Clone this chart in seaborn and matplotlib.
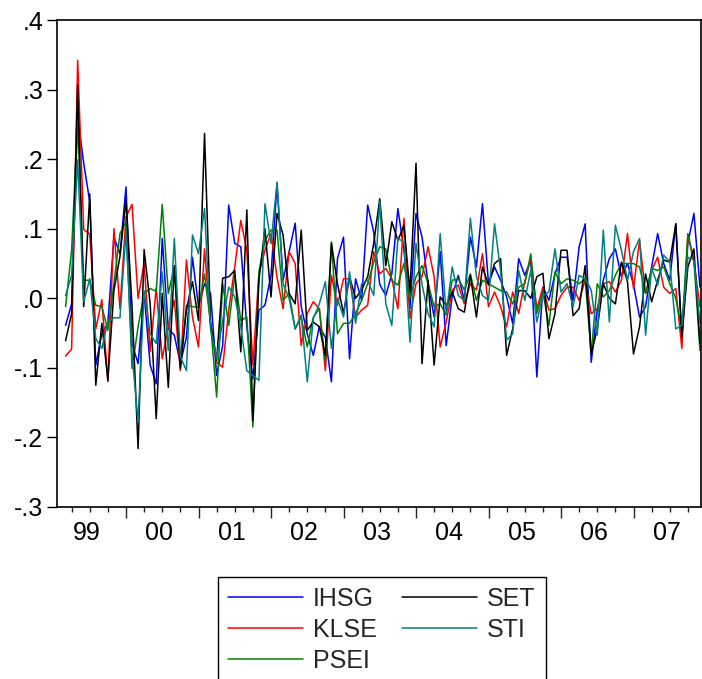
import numpy as np
import pandas as pd
import matplotlib
matplotlib.use("Agg")
import matplotlib.pyplot as plt
import seaborn as sns

sns.set_theme(style="white")
plt.rcParams["font.family"] = ["Liberation Sans", "DejaVu Sans"]

# monthly returns, 1999:03 - 2007:12
ihsg = [-0.039, -0.008, 0.261, 0.194, 0.139, -0.096, -0.051, -0.036, 0.088, 0.064,
        0.160, -0.065, -0.094, 0.007, -0.096, -0.123, 0.086, -0.044,
        -0.053, -0.094, -0.056, 0.059, -0.012, 0.021, 0.007, -0.111, -0.068, 0.134,
        0.079, 0.074, -0.041, -0.116, -0.017, -0.010, 0.033,
        0.165, 0.026, 0.067, 0.108, -0.012, -0.051, -0.082, -0.041, -0.056, -0.120,
        0.057, 0.088, -0.087, 0.028, -0.003, 0.134, 0.095, 0.020,
        0.004, 0.035, 0.129, 0.069, -0.015, 0.122, 0.088, 0.021, -0.027, 0.067,
        -0.068, 0.004, 0.033, -0.003, 0.088, 0.045, 0.136,
        0.021, 0.045, 0.026, 0.002, -0.036, 0.057, 0.033, 0.055, -0.113, 0.016,
        -0.003, 0.035, 0.059, 0.059, -0.003, 0.074, 0.107,
        -0.092, -0.017, 0.026, 0.057, 0.071, 0.031, 0.050, 0.020, -0.027, -0.012,
        0.045, 0.093, 0.050, 0.026, 0.107, -0.056, 0.079, 0.122, 0.016]
klse = [-0.083, -0.073, 0.342, 0.099, 0.092, -0.044, -0.002, -0.120, 0.100, -0.015,
        0.117, 0.135, 0.000, 0.050, -0.077, 0.015, -0.087, -0.040,
        -0.003, -0.104, 0.055, -0.027, -0.070, 0.071, -0.041, -0.092, -0.099, -0.017,
        0.045, 0.112, 0.069, -0.096, 0.035, 0.069, 0.093,
        0.030, -0.015, 0.067, 0.050, -0.068, -0.022, -0.005, -0.015, -0.104, 0.033,
        -0.010, 0.028, 0.028, -0.027, -0.017, -0.010, 0.067, 0.035,
        0.043, 0.028, -0.015, 0.115, -0.029, 0.021, 0.031, 0.074, 0.031, -0.070,
        -0.034, 0.012, 0.019, -0.008, 0.021, 0.012, 0.064,
        -0.012, 0.009, -0.012, -0.041, 0.009, -0.022, 0.024, 0.057, -0.015, 0.016,
        -0.017, -0.015, 0.004, 0.016, 0.016, -0.003, 0.026,
        -0.022, -0.015, 0.021, 0.024, 0.009, 0.026, 0.093, 0.014, 0.083, 0.007,
        0.040, 0.059, 0.016, 0.007, 0.014, -0.072, 0.091, 0.052, -0.012]
psei = [-0.012, 0.069, 0.256, 0.026, 0.026, -0.010, -0.012, -0.046, 0.021, 0.093,
        0.110, -0.101, -0.041, 0.007, 0.014, 0.010, 0.135, 0.007,
        0.045, -0.096, -0.010, -0.012, -0.013, 0.035, -0.036, -0.142, 0.021, -0.039,
        0.033, -0.032, -0.027, -0.185, 0.038, 0.083, 0.098,
        0.098, -0.003, 0.007, -0.044, -0.027, -0.070, -0.027, -0.015, -0.092, 0.081,
        -0.051, -0.036, -0.036, -0.022, -0.003, 0.021, 0.052, 0.074,
        0.071, 0.026, 0.019, 0.050, 0.000, 0.031, 0.047, 0.021, -0.012, -0.008,
        -0.024, 0.026, 0.028, 0.012, 0.035, -0.003, 0.026,
        0.021, 0.016, 0.011, 0.009, -0.008, 0.016, 0.021, 0.064, -0.022, 0.009,
        -0.039, 0.038, 0.021, 0.028, 0.026, 0.021, 0.028,
        -0.080, 0.021, 0.002, 0.011, 0.033, 0.050, 0.050, 0.050, 0.045, 0.007,
        0.043, 0.040, 0.045, 0.021, 0.000, -0.046, 0.093, 0.055, -0.075]
set_ = [-0.061, -0.022, 0.306, -0.012, 0.150, -0.125, -0.036, -0.118, 0.011, 0.060,
        0.141, -0.012, -0.216, 0.070, -0.008, -0.173, 0.007, -0.128,
        0.047, -0.101, -0.017, 0.024, -0.032, 0.237, -0.036, -0.089, 0.029, 0.031,
        0.040, -0.077, 0.127, -0.176, 0.026, 0.100, 0.002,
        0.122, 0.091, 0.007, -0.008, 0.098, -0.046, -0.034, -0.041, -0.082, 0.079,
        0.021, -0.022, 0.031, 0.000, 0.012, 0.031, 0.079, 0.143,
        0.047, 0.110, 0.083, 0.105, 0.009, 0.194, -0.094, 0.026, -0.096, 0.002,
        -0.010, 0.009, -0.015, -0.020, 0.033, -0.027, 0.045,
        0.019, 0.050, 0.057, -0.082, -0.044, 0.011, 0.011, 0.000, 0.031, 0.036,
        -0.058, -0.022, 0.069, 0.069, -0.025, -0.015, 0.047,
        -0.080, -0.044, 0.021, 0.000, -0.008, 0.052, 0.024, -0.080, -0.041, 0.035,
        -0.005, 0.026, 0.055, 0.052, 0.107, -0.056, 0.045, 0.071, -0.065]
sti = [0.004, 0.033, 0.199, -0.005, 0.028, -0.058, -0.072, -0.034, -0.028, -0.028,
       0.095, -0.080, -0.178, 0.011, -0.051, -0.065, 0.038, -0.075,
       0.086, -0.084, -0.104, 0.091, 0.064, 0.129, -0.044, -0.087, -0.032, 0.016,
       0.002, -0.041, -0.104, -0.111, -0.118, 0.136, 0.079,
       0.167, 0.021, 0.000, -0.044, -0.024, -0.120, -0.029, -0.008, 0.024, -0.072,
       0.000, -0.027, 0.038, -0.036, 0.021, 0.026, 0.004, 0.139,
       -0.008, -0.039, 0.086, 0.081, -0.063, 0.079, 0.020, -0.022, -0.041, 0.093,
       -0.022, 0.045, 0.004, -0.003, 0.115, 0.031, 0.004,
       -0.003, 0.107, 0.040, -0.060, -0.051, 0.040, -0.003, 0.040, -0.034, 0.004,
       0.009, 0.071, 0.009, 0.021, -0.012, 0.033, 0.028,
       0.012, -0.053, 0.098, -0.034, 0.105, 0.069, 0.026, 0.067, 0.086, -0.053,
       0.043, 0.019, 0.062, 0.052, -0.044, -0.039, 0.059, 0.055, -0.036]

names = ["IHSG", "KLSE", "PSEI", "SET", "STI"]
colors = {"IHSG": "#0000ff", "KLSE": "#ff0000", "PSEI": "#008000",
          "SET": "#000000", "STI": "#008080"}
year_labels = ["99", "00", "01", "02", "03", "04", "05", "06", "07"]

t = 1999 + (2 + np.arange(len(ihsg))) / 12.0
frames = []
for n, v in zip(names, [ihsg, klse, psei, set_, sti]):
    frames.append(pd.DataFrame({"t": t, "value": v, "series": n}))
df = pd.concat(frames, ignore_index=True)

fig = plt.figure(figsize=(7.02, 6.79), dpi=100)
ax = fig.add_axes([57.3 / 702, 1 - 507 / 679, (701 - 57.3) / 702, 487 / 679])

sns.lineplot(data=df, x="t", y="value", hue="series", palette=colors,
             hue_order=names, linewidth=1.1, ax=ax, legend=True)

ax.set_xlim(1999 + 3.8 / 72.5, 1999 + (701 - 53.5) / 72.5)
ax.set_ylim(-0.3, 0.4)
ax.set_xlabel("")
ax.set_ylabel("")

for s in ax.spines.values():
    s.set_color("black")
    s.set_linewidth(1.2)

ax.set_yticks(np.arange(-0.3, 0.41, 0.1))
ax.set_yticklabels([f"{v:.1f}".replace("0.", ".") for v in np.arange(-0.3, 0.41, 0.1)])
ax.tick_params(axis="y", direction="out", length=7, width=1, pad=3,
               labelsize=18, left=True, colors="black")

ax.set_xticks(np.arange(2000, 2008))
ax.set_xticks(np.arange(1999.25, 2008, 0.25), minor=True)
ax.tick_params(axis="x", which="major", direction="out", length=8, width=1,
               bottom=True, labelbottom=False)
ax.tick_params(axis="x", which="minor", direction="out", length=3.5, width=1,
               bottom=True)

sec = ax.secondary_xaxis("bottom")
sec.set_xticks(np.arange(1999, 2008) + 5.5 / 12, year_labels)
sec.tick_params(length=0, pad=10, labelsize=18, colors="black")
sec.spines["bottom"].set_visible(False)

handles, labels = ax.get_legend_handles_labels()
ax.get_legend().remove()
leg = fig.legend(handles, labels, loc="upper left",
                 bbox_to_anchor=(218 / 702, 1 - 577 / 679), ncol=2,
                 fontsize=18, frameon=True, fancybox=False, framealpha=1,
                 edgecolor="black", handlelength=3.0, handletextpad=0.4,
                 columnspacing=1.0, labelspacing=0.27, borderpad=0.4,
                 borderaxespad=0)
leg.get_frame().set_linewidth(1.0)

fig.savefig("out.png", dpi=100)
